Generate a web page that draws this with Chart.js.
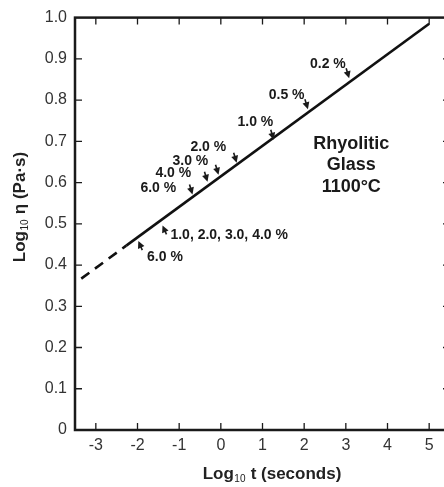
<!DOCTYPE html>
<html>
<head>
<meta charset="utf-8">
<script src="https://cdn.jsdelivr.net/npm/chart.js@4.4.1/dist/chart.umd.min.js"></script>
<style>
body{margin:0;background:#fff;overflow:hidden;}
#box{width:452px;height:487px;position:relative;}
</style>
</head>
<body>
<div id="box"><canvas id="myChart"></canvas></div>
<script>
'use strict';
// axis ticks
let xTicks=[-3,-2,-1,0,1,2,3,4,5];
let yTicks=[0,0.1,0.2,0.3,0.4,0.5,0.6,0.7,0.8,0.9,1.0];
// fitted line, solid part and dashed extrapolation
let solidX=[-2.27,5.0];
let solidY=[0.447,0.985];
let dashX=[-3.35,-2.27];
let dashY=[0.367,0.447];
// water content labels and where their arrows point on the line
let noteText=['0.2 %','0.5 %','1.0 %','2.0 %','3.0 %','4.0 %','6.0 %','1.0, 2.0, 3.0, 4.0 %','6.0 %'];
let noteX=[2.14,1.15,0.40,-0.73,-1.16,-1.57,-1.93,-1.21,-1.77];
let noteY=[0.887,0.812,0.747,0.687,0.653,0.622,0.586,0.472,0.419];
let tipX=[3.08,2.09,1.27,0.38,-0.055,-0.32,-0.68,-1.40,-1.98];
let tipY=[0.853,0.778,0.704,0.648,0.619,0.602,0.571,0.496,0.458];
let glassText=['Rhyolitic','Glass','1100\u00b0C'];
let glassX=3.13;
let glassY=[0.694,0.643,0.590];

function toPts(xs,ys){
    let out=[];
    for(let i=0;i<xs.length;i++){out.push({x:xs[i],y:ys[i]});}
    return out;
}

function drawArrow(ctx,x0,y0,x1,y1){
    let ang=Math.atan2(y1-y0,x1-x0);
    let hl=7,hw=3.5;
    ctx.beginPath();
    ctx.moveTo(x0,y0);
    ctx.lineTo(x1-Math.cos(ang)*hl*0.6,y1-Math.sin(ang)*hl*0.6);
    ctx.lineWidth=1.6;
    ctx.stroke();
    ctx.beginPath();
    ctx.moveTo(x1,y1);
    ctx.lineTo(x1-Math.cos(ang)*hl-Math.sin(ang)*hw,y1-Math.sin(ang)*hl+Math.cos(ang)*hw);
    ctx.lineTo(x1-Math.cos(ang)*hl+Math.sin(ang)*hw,y1-Math.sin(ang)*hl-Math.cos(ang)*hw);
    ctx.closePath();
    ctx.fill();
}

// draws "Log" + subscript "10" + rest, centred at 0,0
function drawLogTitle(ctx,rest){
    let big='bold 17px "Liberation Sans", Arial, sans-serif';
    let small='10px "Liberation Sans", Arial, sans-serif';
    ctx.font=big; let w1=ctx.measureText('Log').width; let w3=ctx.measureText(rest).width;
    ctx.font=small; let w2=ctx.measureText('10').width+1;
    let x=-(w1+w2+w3)/2;
    ctx.textAlign='left';
    ctx.textBaseline='alphabetic';
    ctx.font=big; ctx.fillText('Log',x,6);
    ctx.font=small; ctx.fillText('10',x+w1+0.5,9);
    ctx.font=big; ctx.fillText(rest,x+w1+w2,6);
}

let framePlugin={
    id:'frame',
    afterDraw(chart){
        let ctx=chart.ctx;
        let a=chart.chartArea;
        let xs=chart.scales.x, ys=chart.scales.y;
        ctx.save();
        ctx.strokeStyle='#1a1a1a';
        ctx.fillStyle='#1a1a1a';
        ctx.lineWidth=2.5;
        ctx.strokeRect(a.left,a.top,a.right-a.left,a.bottom-a.top);
        ctx.lineWidth=1.3;
        ctx.beginPath();
        for(let i=0;i<xTicks.length;i++){
            let px=xs.getPixelForValue(xTicks[i]);
            ctx.moveTo(px,a.bottom); ctx.lineTo(px,a.bottom-7);
            ctx.moveTo(px,a.top); ctx.lineTo(px,a.top+7);
        }
        for(let i=1;i<yTicks.length-1;i++){
            let py=ys.getPixelForValue(yTicks[i]);
            ctx.moveTo(a.left,py); ctx.lineTo(a.left+7,py);
            ctx.moveTo(a.right,py); ctx.lineTo(a.right-7,py);
        }
        ctx.stroke();

        // labels with arrows
        ctx.font='bold 14px "Liberation Sans", Arial, sans-serif';
        ctx.textAlign='left';
        ctx.textBaseline='middle';
        for(let i=0;i<noteText.length;i++){
            ctx.fillText(noteText[i],xs.getPixelForValue(noteX[i]),ys.getPixelForValue(noteY[i]));
            let tx=xs.getPixelForValue(tipX[i]);
            let ty=ys.getPixelForValue(tipY[i]);
            if(i<7){drawArrow(ctx,tx-3,ty-10,tx,ty);}
            else{drawArrow(ctx,tx+4,ty+9,tx,ty);}
        }

        ctx.font='bold 18px "Liberation Sans", Arial, sans-serif';
        ctx.textAlign='center';
        for(let i=0;i<glassText.length;i++){
            ctx.fillText(glassText[i],xs.getPixelForValue(glassX),ys.getPixelForValue(glassY[i]));
        }

        // axis titles
        ctx.fillStyle='#222';
        ctx.save();
        ctx.translate(272,473);
        drawLogTitle(ctx,' t (seconds)');
        ctx.restore();
        ctx.save();
        ctx.translate(19,207);
        ctx.rotate(-Math.PI/2);
        drawLogTitle(ctx,' \u03b7 (Pa\u00b7s)');
        ctx.restore();
        ctx.restore();
    }
};

let ctx=document.getElementById('myChart').getContext('2d');
let myChart=new Chart(ctx,{
    type:'scatter',
    data:{
        datasets:[{
            data:toPts(solidX,solidY),
            showLine:true,
            borderColor:'#111',
            borderWidth:2.6,
            pointRadius:0
        },{
            data:toPts(dashX,dashY),
            showLine:true,
            borderColor:'#111',
            borderWidth:2.6,
            borderDash:[10,7],
            pointRadius:0
        }]
    },
    options:{
        responsive:true,
        maintainAspectRatio:false,
        animation:false,
        layout:{padding:{top:15,right:2,bottom:0,left:0}},
        plugins:{legend:{display:false},tooltip:{enabled:false}},
        scales:{
            x:{
                type:'linear',
                min:-3.5,
                max:5.5,
                grid:{display:false,drawTicks:false},
                border:{display:false},
                afterBuildTicks(scale){scale.ticks=xTicks.map(v=>({value:v}));},
                afterFit(scale){scale.height=57;},
                ticks:{
                    padding:6,
                    color:'#333',
                    font:{size:16,family:'"Liberation Sans", Arial, sans-serif'}
                }
            },
            y:{
                min:0,
                max:1.0,
                grid:{display:false,drawTicks:false},
                border:{display:false},
                afterBuildTicks(scale){scale.ticks=yTicks.map(v=>({value:v}));},
                afterFit(scale){scale.width=75;},
                ticks:{
                    padding:8,
                    color:'#333',
                    font:{size:16,family:'"Liberation Sans", Arial, sans-serif'},
                    callback:function(v){return v===0?'0':v.toFixed(1);}
                }
            }
        }
    },
    plugins:[framePlugin]
});
</script>
</body>
</html>
